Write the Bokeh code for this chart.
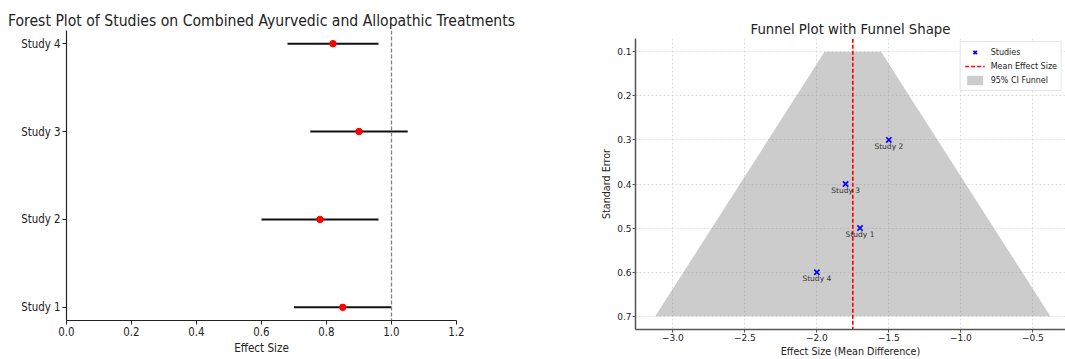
import numpy as np
from bokeh.plotting import figure
from bokeh.models import Range1d, FixedTicker, Span, CustomJSTickFormatter, Legend, LegendItem
from bokeh.layouts import row
from bokeh.core.properties import value
from bokeh.embed import file_html
from bokeh.resources import INLINE

# ---------------- data ----------------
studies = ["Study 1", "Study 2", "Study 3", "Study 4"]
forest_effect = [0.85, 0.78, 0.90, 0.82]
forest_lower = [0.70, 0.60, 0.75, 0.68]
forest_upper = [1.00, 0.96, 1.05, 0.96]
null_line = 1.0

funnel_effect = [-1.7, -1.5, -1.8, -2.0]
funnel_se = [0.5, 0.3, 0.4, 0.6]
funnel_se_bounds = [0.1, 0.7]
z_95 = 1.96

forest_xticks = [0.0, 0.2, 0.4, 0.6, 0.8, 1.0, 1.2]
funnel_xticks = [-3.0, -2.5, -2.0, -1.5, -1.0, -0.5]
funnel_yticks = [0.1, 0.2, 0.3, 0.4, 0.5, 0.6, 0.7]

LFONT = "DejaVu Sans Condensed"
RFONT = "DejaVu Sans"
TXT = "#222222"

# ---------------- forest plot ----------------
n = len(studies)
ypos = list(range(n))
pad = 0.05 * (n - 1)
p1 = figure(width=590, height=359, output_backend="svg", toolbar_location=None,
            x_range=Range1d(forest_xticks[0], forest_xticks[-1]),
            y_range=Range1d(-pad, n - 1 + pad),
            min_border_left=66, min_border_right=134, min_border_top=30, min_border_bottom=39,
            title="Forest Plot of Studies on Combined Ayurvedic and Allopathic Treatments")
p1.frame_align = False
p1.outline_line_color = None
p1.xgrid.visible = False
p1.ygrid.visible = False
p1.title.text_font = LFONT
p1.title.text_font_size = "15.6px"
p1.title.text_font_style = "normal"
p1.title.text_color = TXT
p1.title.align = "center"
p1.title.standoff = 2

p1.segment(x0=forest_lower, y0=ypos, x1=forest_upper, y1=ypos, line_color="#111111", line_width=2)
p1.scatter(forest_effect, ypos, size=6.5, fill_color="red", line_color="red")
p1.add_layout(Span(location=null_line, dimension="height", line_color="gray",
                   line_dash="4 2", line_width=1.3))

p1.xaxis.ticker = FixedTicker(ticks=forest_xticks)
p1.xaxis.formatter = CustomJSTickFormatter(code="return tick.toFixed(1);")
p1.yaxis.ticker = FixedTicker(ticks=ypos)
p1.yaxis.formatter = CustomJSTickFormatter(args=dict(labels=studies),
                                           code="return labels[Math.round(tick)] || '';")
p1.xaxis.axis_label = "Effect Size"
for ax in (p1.xaxis[0], p1.yaxis[0]):
    ax.axis_line_color = "#222222"
    ax.axis_line_width = 1.2
    ax.major_tick_line_color = "#222222"
    ax.major_tick_out = 4
    ax.major_tick_in = 0
    ax.minor_tick_line_color = None
    ax.major_label_text_font = LFONT
    ax.major_label_text_font_size = "11.4px"
    ax.major_label_text_color = TXT
    ax.major_label_standoff = 2
    ax.axis_label_text_font = LFONT
    ax.axis_label_text_font_size = "11.6px"
    ax.axis_label_text_font_style = "normal"
    ax.axis_label_text_color = TXT
    ax.axis_label_standoff = 2

# ---------------- funnel plot ----------------
mean_eff = float(np.mean(funnel_effect))
se_lo, se_hi = funnel_se_bounds
fx = [mean_eff - z_95 * se_lo, mean_eff + z_95 * se_lo, mean_eff + z_95 * se_hi, mean_eff - z_95 * se_hi]
fy = [se_lo, se_lo, se_hi, se_hi]
xspan = fx[2] - fx[3]
ypad = 0.05 * (se_hi - se_lo)
x_start = fx[3] - 0.05 * xspan

p2 = figure(width=475, height=359, output_backend="svg", toolbar_location=None,
            x_range=Range1d(x_start, x_start + 430 / 144.0),
            y_range=Range1d(se_hi + ypad, se_lo - ypad),
            min_border_left=45, min_border_right=0, min_border_top=38, min_border_bottom=29,
            title="Funnel Plot with Funnel Shape")
p2.frame_align = False
p2.outline_line_color = None
p2.title.text_font = RFONT
p2.title.text_font_size = "13.3px"
p2.title.text_font_style = "normal"
p2.title.text_color = TXT
p2.title.align = "center"
p2.title.standoff = 4

p2.grid.grid_line_color = "#d4d4d4"
p2.grid.grid_line_dash = "2 2"
p2.grid.grid_line_width = 0.8

r_patch = p2.patch(fx, fy, fill_color="gray", fill_alpha=0.4, line_color=None)
r_line = p2.line([mean_eff, mean_eff], [se_hi + 2 * ypad, se_lo - 2 * ypad],
                 line_color="red", line_dash="4 2", line_width=1.6)
r_pts = p2.scatter(funnel_effect, funnel_se, marker="x", size=7.5, line_color="blue", line_width=1.7)
p2.text(funnel_effect, funnel_se, text=studies, text_align="center", text_baseline="top",
        y_offset=2, text_font=value(RFONT), text_font_size="7.5px", text_color="#333333")

legend = Legend(items=[LegendItem(label="Studies", renderers=[r_pts]),
                       LegendItem(label="Mean Effect Size", renderers=[r_line]),
                       LegendItem(label="95% CI Funnel", renderers=[r_patch])],
                location="top_right")
legend.margin = 3
legend.padding = 4
legend.spacing = 2
legend.label_text_font = RFONT
legend.label_text_font_size = "8px"
legend.label_text_color = TXT
legend.label_height = 12
legend.glyph_height = 12
legend.glyph_width = 20
legend.label_standoff = 6
legend.border_line_color = "#cccccc"
legend.background_fill_alpha = 0.85
p2.add_layout(legend)

p2.xaxis.ticker = FixedTicker(ticks=funnel_xticks)
p2.xaxis.formatter = CustomJSTickFormatter(code="return tick.toFixed(1).replace('-', '\u2212');")
p2.yaxis.ticker = FixedTicker(ticks=funnel_yticks)
p2.yaxis.formatter = CustomJSTickFormatter(code="return tick.toFixed(1);")
p2.xaxis.axis_label = "Effect Size (Mean Difference)"
p2.yaxis.axis_label = "Standard Error"
for ax in (p2.xaxis[0], p2.yaxis[0]):
    ax.axis_line_color = "#555555"
    ax.axis_line_width = 1.5
    ax.major_tick_line_color = "#555555"
    ax.major_tick_out = 3
    ax.major_tick_in = 0
    ax.minor_tick_line_color = None
    ax.major_label_text_font = RFONT
    ax.major_label_text_font_size = "9px"
    ax.major_label_text_color = TXT
    ax.major_label_standoff = 1
    ax.axis_label_text_font = RFONT
    ax.axis_label_text_font_size = "9.6px"
    ax.axis_label_text_font_style = "normal"
    ax.axis_label_text_color = TXT
    ax.axis_label_standoff = 2

layout = row(p1, p2)
open("out.html", "w").write(file_html(layout, INLINE))
